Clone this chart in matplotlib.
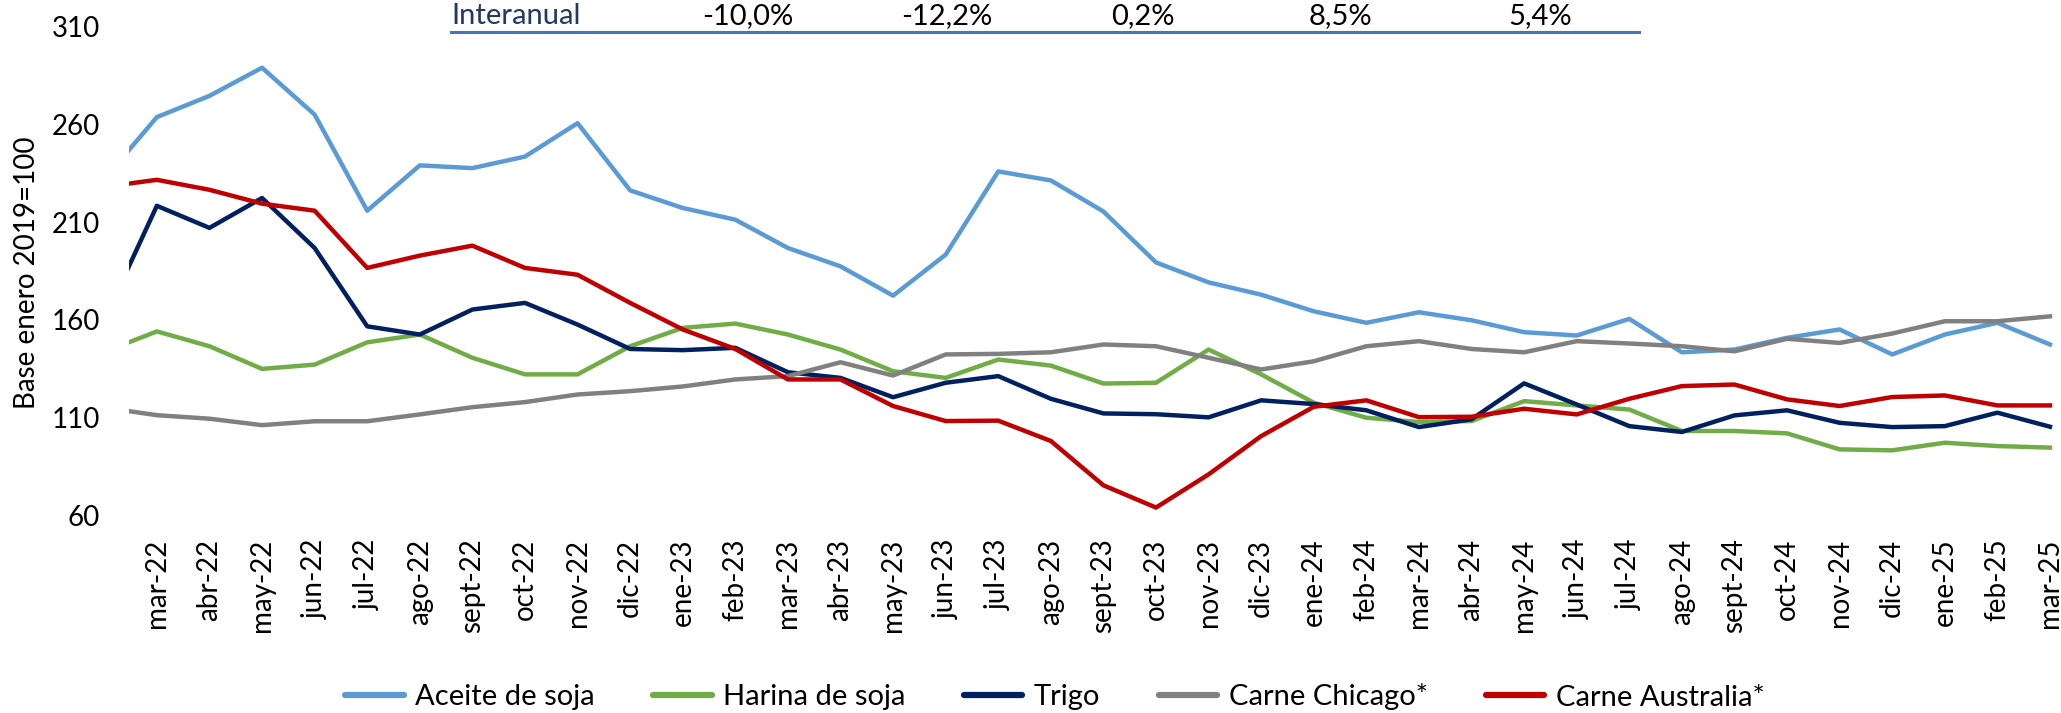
import matplotlib
matplotlib.use("Agg")
import matplotlib.pyplot as plt
from matplotlib.lines import Line2D

plt.rcParams['font.family'] = ['Lato', 'DejaVu Sans']

# feb-22 is only half visible at the left edge, it has no label
meses = ['feb-22', 'mar-22', 'abr-22', 'may-22', 'jun-22', 'jul-22', 'ago-22', 'sept-22', 'oct-22',
         'nov-22', 'dic-22', 'ene-23', 'feb-23', 'mar-23', 'abr-23', 'may-23', 'jun-23', 'jul-23',
         'ago-23', 'sept-23', 'oct-23', 'nov-23', 'dic-23', 'ene-24', 'feb-24', 'mar-24', 'abr-24',
         'may-24', 'jun-24', 'jul-24', 'ago-24', 'sept-24', 'oct-24', 'nov-24', 'dic-24', 'ene-25',
         'feb-25', 'mar-25']

aceite = [232, 263.7, 274.6, 289, 265, 215.8, 239, 237.6, 243.5, 260.6, 226.2, 217.2,
          211.2, 196.7, 187.3, 172.3, 193.3, 235.9, 231.3, 215.4, 189.3, 179.1, 172.8, 164.3,
          158.4, 163.8, 159.7, 153.6, 151.9, 160.4, 143.3, 144.7, 150.7, 155, 142.2, 152.4, 158.4, 147.3]
harina = [143.5, 154, 146.4, 134.8, 137, 148.4, 152.4, 140.5, 132, 132, 146.4, 155.8,
          158, 152.4, 144.7, 133.6, 130.2, 139.6, 136.5, 127.3, 127.7, 144.7, 132, 117.5,
          109.8, 107.6, 108.1, 118.3, 116.1, 114, 103, 103, 101.8, 93.6, 93.1, 97, 95.3, 94.5]
trigo = [160, 218.3, 207, 222.3, 196.7, 156.6, 152.4, 165.2, 168.6, 157.5, 145, 144.4,
         145.6, 133.1, 130.2, 120.3, 127.7, 131.1, 119.5, 112, 111.6, 110, 118.7, 116.8,
         113.6, 105, 109, 127.4, 116.6, 105.5, 102.5, 111, 113.6, 107.2, 105, 105.5, 112.4, 105.2]
chicago = [115, 111.1, 109.3, 106, 108, 108, 111.5, 115.2, 117.8, 121.7, 123.4, 125.8,
           129.4, 131.1, 138.2, 131.4, 142.2, 142.5, 143.3, 147.3, 146.4, 140.5, 134.5, 138.7,
           146.4, 149.0, 145, 143.3, 149, 147.8, 146.4, 143.8, 150.2, 148.1, 152.9, 159.2, 159.2, 161.7]
australia = [228, 231.6, 226.5, 219.4, 215.8, 186.5, 192.8, 197.9, 186.5, 183, 168.6, 155,
             145, 129.4, 129.4, 115.8, 108.1, 108.3, 97.9, 75.2, 63.8, 80.8, 100.4, 115.4,
             118.7, 110.1, 110.3, 114.4, 111.5, 119.5, 126, 126.8, 119.2, 115.8, 120.4, 121.2, 116.1, 116.1]

series = ['Aceite de soja', 'Harina de soja', 'Trigo', 'Carne Chicago*', 'Carne Australia*']
colores = ['#5B9BD5', '#70AD47', '#002060', '#808080', '#C00000']
interanual = ['-10,0%', '-12,2%', '0,2%', '8,5%', '5,4%']

fig = plt.figure(figsize=(20.61, 7.13), dpi=100)
ax = fig.add_axes([129 / 2061, 1 - 515 / 713, 1 - 129 / 2061, (515 - 26.7) / 713])

x = list(range(-1, len(meses) - 1))
for datos, nombre, c in zip([aceite, harina, trigo, chicago, australia], series, colores):
    ax.plot(x, datos, color=c, linewidth=3.2, label=nombre)

ax.set_xlim(-0.53, 36.21)
ax.set_ylim(60, 310)
ax.set_yticks(range(60, 311, 50))
ax.set_xticks(range(0, len(meses) - 1))
ax.set_xticklabels(meses[1:], rotation=90)
ax.tick_params(axis='x', length=0, pad=17, labelsize=20)
ax.tick_params(axis='y', length=0, pad=21, labelsize=20)
for s in ax.spines.values():
    s.set_visible(False)

fig.text(27 / 2061, 1 - 273 / 713, 'Base enero 2019=100', rotation=90,
         ha='center', va='center', fontsize=20)

# tabla interanual arriba del grafico
fig.text(451 / 2061, 1 - 24 / 713, 'Interanual', color='#203864', fontsize=21, va='baseline')
for xc, txt in zip([748, 947, 1143, 1340, 1540], interanual):
    fig.text(xc / 2061, 1 - 24 / 713, txt, ha='center', va='baseline', fontsize=21)
fig.add_artist(Line2D([451 / 2061, 1639 / 2061], [1 - 32 / 713] * 2,
                      color='#4472C4', linewidth=2.2))

handles = [Line2D([], [], color=c, linewidth=4.5, solid_capstyle='round') for c in colores]
fig.legend(handles, series, loc='center', bbox_to_anchor=(1055 / 2061, 1 - 697 / 713),
           ncol=5, frameon=False, fontsize=21, handlelength=2.0, handletextpad=0.4,
           columnspacing=2.0, borderpad=0)

fig.savefig('out.png', dpi=100)
